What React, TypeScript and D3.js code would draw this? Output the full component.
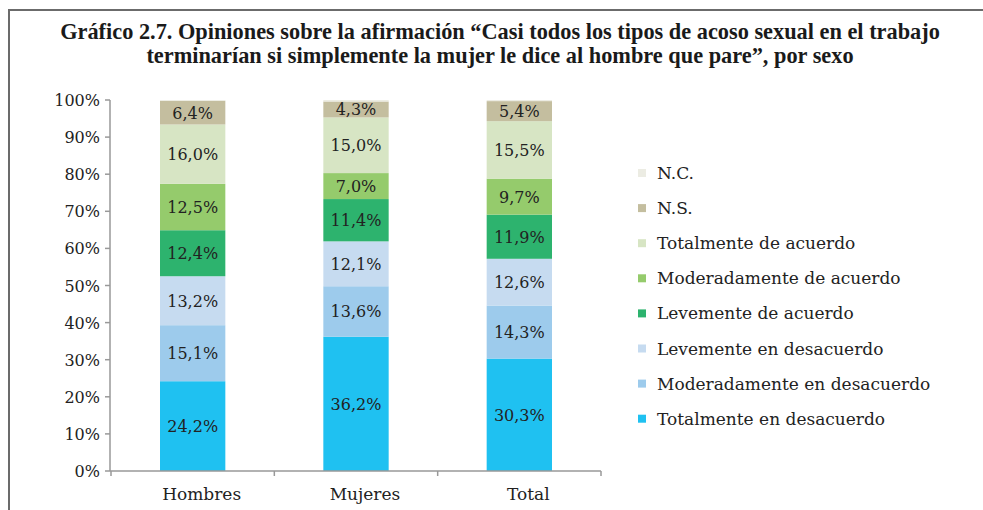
import * as d3 from "d3"
import { useRef, useEffect } from "react"

const categories = ["Hombres", "Mujeres", "Total"]
const seriesNames = [
  "Totalmente en desacuerdo",
  "Moderadamente en desacuerdo",
  "Levemente en desacuerdo",
  "Levemente de acuerdo",
  "Moderadamente de acuerdo",
  "Totalmente de acuerdo",
  "N.S.",
  "N.C.",
]
const totDesacuerdo = [24.2, 36.2, 30.3]
const modDesacuerdo = [15.1, 13.6, 14.3]
const levDesacuerdo = [13.2, 12.1, 12.6]
const levAcuerdo = [12.4, 11.4, 11.9]
const modAcuerdo = [12.5, 7.0, 9.7]
const totAcuerdo = [16.0, 15.0, 15.5]
const ns = [6.4, 4.3, 5.4]
const nc = [0.2, 0.4, 0.3]
const seriesValues = [totDesacuerdo, modDesacuerdo, levDesacuerdo, levAcuerdo, modAcuerdo, totAcuerdo, ns, nc]
const colors = ["#1FC1F1", "#9DCBEC", "#C6DBF0", "#2DB36E", "#95CB6C", "#D7E5C4", "#C4BE9F", "#ECECE3"]
const yTicks = [0, 10, 20, 30, 40, 50, 60, 70, 80, 90, 100]
const titleLines = [
  "Gráfico 2.7. Opiniones sobre la afirmación “Casi todos los tipos de acoso sexual en el trabajo",
  "terminarían si simplemente la mujer le dice al hombre que pare”, por sexo",
]

const fmt = (v: number) => v.toFixed(1).replace(".", ",") + "%"

export default function App() {
  const svgRef = useRef<SVGSVGElement>(null)

  useEffect(() => {
    if (!svgRef.current) return
    const width = 983
    const height = 510
    const font = "'DejaVu Serif', serif"
    const svg = d3.select(svgRef.current)
    svg.selectAll("*").remove()
    svg.attr("width", width).attr("height", height)

    // frame
    svg.append("line").attr("x1", 8).attr("x2", width).attr("y1", 10).attr("y2", 10)
      .attr("stroke", "#6b6b6b").attr("stroke-width", 2)
    svg.append("line").attr("x1", 9).attr("x2", 9).attr("y1", 10).attr("y2", height)
      .attr("stroke", "#6b6b6b").attr("stroke-width", 2)

    // title - size chosen so the first line is ~880px wide like the source
    const title = svg.append("g").selectAll("text").data(titleLines).enter().append("text")
      .attr("x", 500).attr("y", (_d, i) => 39 + i * 24)
      .attr("text-anchor", "middle")
      .style("font-family", "'Liberation Serif', serif")
      .style("font-weight", "bold").style("font-size", "19px").style("fill", "#1a1a1a")
      .text((d) => d)
    const firstNode = title.nodes()[0] as SVGTextElement
    const w0 = firstNode.getComputedTextLength()
    if (w0 > 0) title.style("font-size", `${(19 * 880) / w0}px`)

    const xScale = d3.scaleBand().domain(categories).range([111, 601]).padding(0)
    const yScale = d3.scaleLinear().domain([0, 100]).range([471, 100])
    const barW = xScale.bandwidth() * 0.4

    const rows = categories.map((c, i) => {
      const r: Record<string, number | string> = { cat: c }
      seriesNames.forEach((s, j) => (r[s] = seriesValues[j][i]))
      return r
    })
    const stacked = d3.stack<Record<string, number | string>>().keys(seriesNames)(rows)

    const layers = svg.append("g").selectAll("g").data(stacked).enter().append("g")
      .attr("fill", (_d, i) => colors[i])
    layers.selectAll("rect").data((d) => d).enter().append("rect")
      .attr("x", (d) => (xScale(d.data.cat as string) || 0) + xScale.bandwidth() / 2 - barW / 2)
      .attr("width", barW)
      .attr("y", (d) => yScale(d[1]))
      .attr("height", (d) => yScale(d[0]) - yScale(d[1]))

    // value labels (no label for N.C.)
    stacked.slice(0, 7).forEach((layer) => {
      svg.append("g").selectAll("text").data(layer).enter().append("text")
        .attr("x", (d) => (xScale(d.data.cat as string) || 0) + xScale.bandwidth() / 2)
        .attr("y", (d) => (yScale(d[0]) + yScale(d[1])) / 2 + 6)
        .attr("text-anchor", "middle")
        .style("font-family", font).style("font-size", "16px").style("fill", "#222")
        .text((d) => fmt(d[1] - d[0]))
    })

    // y axis
    svg.append("line").attr("x1", 110).attr("x2", 110).attr("y1", yScale(100)).attr("y2", yScale(0))
      .attr("stroke", "#999").attr("stroke-width", 1.5)
    const yg = svg.append("g").selectAll("g").data(yTicks).enter().append("g")
    yg.append("line").attr("x1", 105).attr("x2", 110).attr("y1", (d) => yScale(d)).attr("y2", (d) => yScale(d))
      .attr("stroke", "#999").attr("stroke-width", 1.5)
    yg.append("text").attr("x", 100).attr("y", (d) => yScale(d) + 6)
      .attr("text-anchor", "end")
      .style("font-family", font).style("font-size", "16px").style("fill", "#222")
      .text((d) => d + "%")

    // x axis
    svg.append("line").attr("x1", 110).attr("x2", 601).attr("y1", yScale(0)).attr("y2", yScale(0))
      .attr("stroke", "#999").attr("stroke-width", 1.5)
    const bounds = [...categories.map((c) => xScale(c) || 0), xScale.range()[1]]
    svg.append("g").selectAll("line").data(bounds).enter().append("line")
      .attr("x1", (d) => d).attr("x2", (d) => d).attr("y1", yScale(0)).attr("y2", yScale(0) + 5)
      .attr("stroke", "#999").attr("stroke-width", 1.5)
    svg.append("g").selectAll("text").data(categories).enter().append("text")
      .attr("x", (d) => (xScale(d) || 0) + xScale.bandwidth() / 2 + 9)
      .attr("y", 500)
      .attr("text-anchor", "middle")
      .style("font-family", font).style("font-size", "17px").style("fill", "#222")
      .text((d) => d)

    // legend, top = N.C.
    const legendItems = seriesNames.map((s, i) => ({ name: s, color: colors[i] })).reverse()
    const lg = svg.append("g").selectAll("g").data(legendItems).enter().append("g")
      .attr("transform", (_d, i) => `translate(638,${173 + i * 35.1})`)
    lg.append("rect").attr("x", 0).attr("y", -4).attr("width", 8).attr("height", 8).attr("fill", (d) => d.color)
    lg.append("text").attr("x", 19).attr("y", 6)
      .style("font-family", font).style("font-size", "17px").style("fill", "#222")
      .text((d) => d.name)
  }, [])

  return (
    <div style={{ position: "absolute", left: 0, top: 0 }}>
      <svg ref={svgRef} style={{ display: "block" }}></svg>
    </div>
  )
}
